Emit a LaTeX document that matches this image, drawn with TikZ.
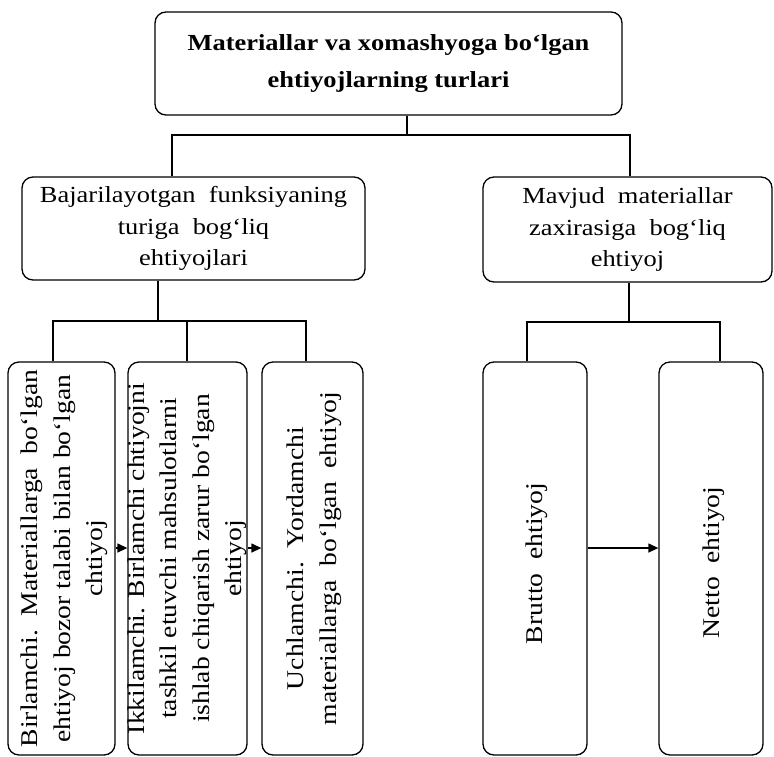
\documentclass[tikz,border=0pt]{standalone}
\usepackage{fontspec}
\setmainfont{Liberation Serif}[FakeStretch=1.15]
\usetikzlibrary{arrows.meta}
\begin{document}
\begin{tikzpicture}[x=1pt,y=1pt,
  box/.style={draw, line width=1.3pt, rounded corners=11pt, inner sep=0pt},
  conn/.style={line width=1.3pt},
  arr/.style={line width=1.3pt, -{Triangle[length=10pt,width=9pt]}},
  vtext/.style={rotate=90, align=center, font=\fontsize{24}{32.5}\selectfont, inner sep=0pt}]
\useasboundingbox (0,0) rectangle (774,-756);
% top
\node[box, minimum width=467pt, minimum height=103pt, align=center,
  font=\fontsize{23}{37}\selectfont\bfseries] (top) at (388.5,-63.5)
  {Materiallar va xomashyoga bo‘lgan\\ehtiyojlarning turlari};
% middle
\node[box, minimum width=343pt, minimum height=103pt, align=center,
  font=\fontsize{23}{31.5}\selectfont] (m1) at (193.5,-228.5)
  {Bajarilayotgan\ \ funksiyaning\\turiga\ \ bog‘liq\\ehtiyojlari};
\node[box, minimum width=289pt, minimum height=105pt, align=center,
  font=\fontsize{23}{31.5}\selectfont] (m2) at (627.5,-229.5)
  {Mavjud\ \ materiallar\\zaxirasiga\ \ bog‘liq\\ehtiyoj};
% bottom boxes
\node[box, minimum width=107pt, minimum height=393pt] (b1) at (61.5,-558.5) {};
\node[box, minimum width=119pt, minimum height=393pt] (b2) at (187.5,-558.5) {};
\node[box, minimum width=101pt, minimum height=393pt] (b3) at (312.5,-558.5) {};
\node[box, minimum width=104pt, minimum height=393pt] (br) at (535,-558.5) {};
\node[box, minimum width=104pt, minimum height=393pt] (ne) at (711,-558.5) {};
% rotated texts
\node[vtext] (t1) at ([xshift=3pt]b1.center) {Birlamchi.\ \ Materiallarga\ \ bo‘lgan\\ehtiyoj bozor talabi bilan bo‘lgan\\chtiyoj};
\node[vtext] (t2) at (b2.center) {Ikkilamchi. Birlamchi chtiyojni\\tashkil\ etuvchi\ mahsulotlarni\\ishlab chiqarish\ zarur bo‘lgan\\ehtiyoj};
\node[vtext] (t3) at ([xshift=2pt]b3.center) {Uchlamchi.\ \ Yordamchi\\materiallarga\ \ bo‘lgan\ \ ehtiyoj};
\node[vtext] (t4) at ([xshift=2pt,yshift=-5pt]br.center) {Brutto\ \ ehtiyoj};
\node[vtext] (t5) at ([xshift=3pt,yshift=-4pt]ne.center) {Netto\ \ ehtiyoj};
% connectors top level
\coordinate (j1) at (407,-135);
\draw[conn] (top.south -| j1) -- (j1);
\draw[conn] (m1.north -| 172,0) -- (172,-135) -- (630,-135) -- (m2.north -| 630,0);
% left subtree
\coordinate (j2) at (158,-321);
\draw[conn] (m1.south -| j2) -- (j2);
\draw[conn] (b1.north -| 53,0) -- (53,-321) -- (306,-321) -- (b3.north -| 306,0);
\draw[conn] (187,-321) -- (b2.north -| 187,0);
% right subtree
\coordinate (j3) at (629,-322);
\draw[conn] (m2.south -| j3) -- (j3);
\draw[conn] (br.north -| 527,0) -- (527,-322) -- (720,-322) -- (ne.north -| 720,0);
% arrows
\draw[arr] (b1.east |- 0,-548) -- (b2.west |- 0,-548);
\draw[arr] (b2.east |- 0,-548) -- (b3.west |- 0,-548);
\draw[arr] (br.east |- 0,-548) -- (ne.west |- 0,-548);
\end{tikzpicture}
\end{document}
